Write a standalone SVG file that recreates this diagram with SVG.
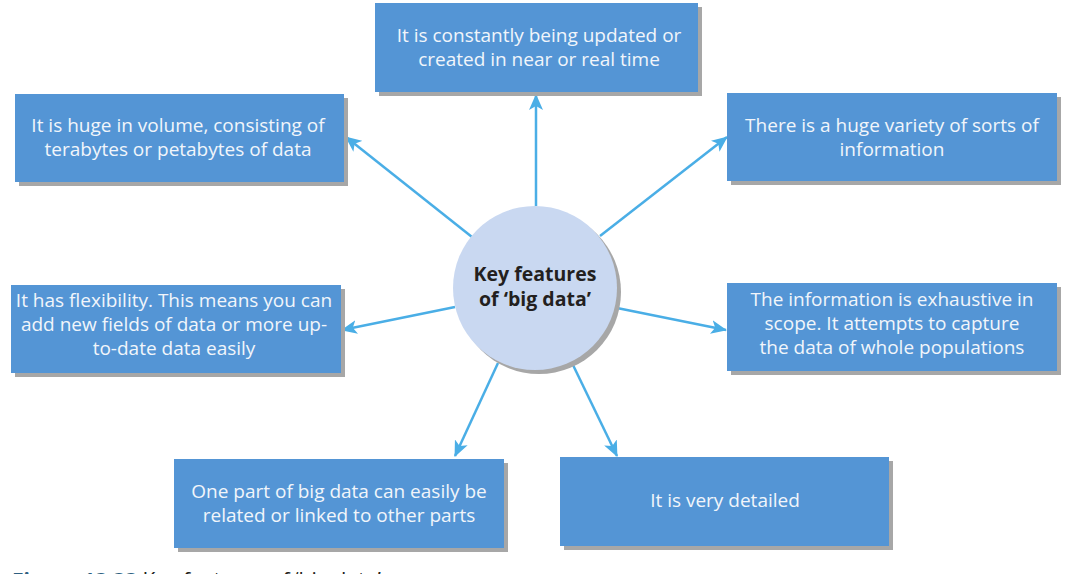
<svg xmlns="http://www.w3.org/2000/svg" width="1068" height="574" viewBox="0 0 1068 574">
<defs>
<style>
.box{fill:#5495d5}
.sh{fill:#a7a7a7}
.t{font-family:"Open Sans","Noto Sans","Liberation Sans",sans-serif;font-size:19px;fill:#f1f5fb;text-anchor:middle}
.c{font-family:"Open Sans","Noto Sans","Liberation Sans",sans-serif;font-size:19.5px;font-weight:bold;fill:#231f20;text-anchor:middle}
.ln{stroke:#4aaee6;stroke-width:2.5;fill:none;marker-end:url(#ah)}
.cap{font-family:"Open Sans","Noto Sans","Liberation Sans",sans-serif;font-size:21px;fill:#231f20}
</style>
<marker id="ah" markerUnits="userSpaceOnUse" markerWidth="16" markerHeight="14" refX="15" refY="7" orient="auto">
<path d="M0,0 L16,7 L0,14 L4,7 Z" fill="#4aaee6"/>
</marker>
</defs>
<rect width="1068" height="574" fill="#ffffff"/>
<g id="connectors">
<line class="ln" x1="536" y1="206" x2="536" y2="95"/>
<line class="ln" x1="472" y1="237" x2="346" y2="137"/>
<line class="ln" x1="600" y1="236" x2="727" y2="137"/>
<line class="ln" x1="455" y1="307" x2="342" y2="330"/>
<line class="ln" x1="617" y1="308" x2="726" y2="330"/>
<line class="ln" x1="498" y1="363" x2="455" y2="456"/>
<line class="ln" x1="573" y1="365" x2="617" y2="456"/>
</g>
<g id="center">
<circle class="sh" cx="539" cy="292" r="82"/>
<circle cx="535" cy="288" r="82" fill="#c9d8f1"/>
<text class="c" x="535" y="281">Key features</text>
<text class="c" x="535" y="306">of ‘big data’</text>
</g>
<g id="top">
<rect class="sh" x="379" y="7" width="323" height="89"/>
<rect class="box" x="375" y="3" width="323" height="89"/>
<text class="t" x="539" y="42">It is constantly being updated or</text>
<text class="t" x="539" y="66">created in near or real time</text>
</g>
<g id="topleft">
<rect class="sh" x="19" y="98" width="329" height="88"/>
<rect class="box" x="15" y="94" width="329" height="88"/>
<text class="t" x="178" y="132">It is huge in volume, consisting of</text>
<text class="t" x="178" y="156">terabytes or petabytes of data</text>
</g>
<g id="topright">
<rect class="sh" x="731" y="97" width="330" height="88"/>
<rect class="box" x="727" y="93" width="330" height="88"/>
<text class="t" x="892" y="132">There is a huge variety of sorts of</text>
<text class="t" x="892" y="156">information</text>
</g>
<g id="left">
<rect class="sh" x="15" y="289" width="330" height="88"/>
<rect class="box" x="11" y="285" width="330" height="88"/>
<text class="t" x="174" y="307">It has flexibility. This means you can</text>
<text class="t" x="174" y="331">add new fields of data or more up-</text>
<text class="t" x="174" y="355">to-date data easily</text>
</g>
<g id="right">
<rect class="sh" x="731" y="287" width="330" height="88"/>
<rect class="box" x="727" y="283" width="330" height="88"/>
<text class="t" x="892" y="306">The information is exhaustive in</text>
<text class="t" x="892" y="330">scope. It attempts to capture</text>
<text class="t" x="892" y="354">the data of whole populations</text>
</g>
<g id="bottomleft">
<rect class="sh" x="178" y="463" width="330" height="89"/>
<rect class="box" x="174" y="459" width="330" height="89"/>
<text class="t" x="339" y="498">One part of big data can easily be</text>
<text class="t" x="339" y="522">related or linked to other parts</text>
</g>
<g id="bottomright">
<rect class="sh" x="564" y="461" width="329" height="89"/>
<rect class="box" x="560" y="457" width="329" height="89"/>
<text class="t" x="725" y="507">It is very detailed</text>
</g>
<g id="caption">
<text class="cap" x="12" y="588"><tspan font-weight="bold" fill="#2e5f80">Figure 13.33</tspan> Key features of ‘big data’</text>
</g>
</svg>
